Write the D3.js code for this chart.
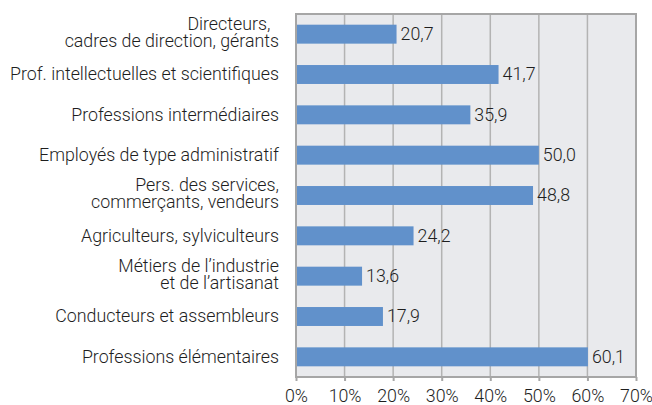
<!DOCTYPE html>
<html><head><meta charset="utf-8">
<script src="https://cdn.jsdelivr.net/npm/d3@7"></script>
<style>body{margin:0;background:#fff}svg{display:block}text{font-family:Roboto,"Noto Sans",sans-serif;font-weight:300;fill:#1e1e1e}</style>
</head><body><svg id="c" width="652" height="405"></svg>
<script>
const categories = [
  ["Directeurs,\u00a0\u00a0", "cadres de direction, gérants"],
  ["Prof. intellectuelles et scientifiques"],
  ["Professions intermédiaires"],
  ["Employés de type administratif"],
  ["Pers. des services,", "commerçants, vendeurs"],
  ["Agriculteurs, sylviculteurs"],
  ["Métiers de l’industrie", "et de l’artisanat"],
  ["Conducteurs et assembleurs"],
  ["Professions élémentaires"]
];
const values = [20.7, 41.7, 35.9, 50.0, 48.8, 24.2, 13.6, 17.9, 60.1];
const ticks = [0, 10, 20, 30, 40, 50, 60, 70];

const FS = 17.8;
const svg = d3.select("#c");
const L = 296, R = 636, T = 14, B = 377;
const x = d3.scaleLinear().domain([0, 70]).range([L, R]);
const y = d3.scaleBand().domain(d3.range(categories.length)).range([T, B]).paddingInner(0.53).paddingOuter(0.265);

svg.append("rect").attr("x", L).attr("y", T).attr("width", R - L).attr("height", B - T).attr("fill", "#e9eaed");
svg.append("g").selectAll("line").data(ticks.slice(1, -1)).join("line")
  .attr("x1", d => x(d)).attr("x2", d => x(d)).attr("y1", T).attr("y2", B)
  .attr("stroke", "#b3b3b3").attr("stroke-width", 1.5);

svg.append("g").selectAll("rect").data(values).join("rect")
  .attr("x", x(0)).attr("y", (d, i) => y(i)).attr("width", d => x(d) - x(0)).attr("height", y.bandwidth())
  .attr("fill", "#6191cb");

const fmt = d => d.toFixed(1).replace(".", ",");
svg.append("g").selectAll("text").data(values).join("text")
  .attr("x", d => x(d) + 4).attr("y", (d, i) => y(i) + y.bandwidth() / 2).attr("dy", "0.33em")
  .attr("font-size", FS).text(fmt);

svg.append("rect").attr("x", L).attr("y", T).attr("width", R - L).attr("height", B - T)
  .attr("fill", "none").attr("stroke", "#a6a6a6").attr("stroke-width", 2);

const xAxis = d3.axisBottom(x).tickValues(ticks).tickSize(4).tickFormat(d => d + "%");
const ga = svg.append("g").attr("transform", `translate(0,${B})`).call(xAxis);
ga.select(".domain").remove();
ga.selectAll(".tick line").attr("stroke", "#a6a6a6").attr("stroke-width", 2);
ga.selectAll(".tick text").attr("font-size", FS).attr("dy", 0).attr("y", 24.5).attr("fill", "#1e1e1e")
  .attr("font-family", "Roboto").attr("font-weight", 300);

const lab = svg.append("g").selectAll("text").data(categories).join("text")
  .attr("text-anchor", "end").attr("font-size", FS)
  .attr("transform", (d, i) => `translate(279,${y(i) + y.bandwidth() / 2})`);
lab.each(function(lines) {
  const t = d3.select(this);
  const n = lines.length;
  lines.forEach((s, k) => {
    t.append("tspan").attr("x", 0).attr("y", (k - (n - 1) / 2) * 17.5 - (n - 1) * 1.5).attr("dy", "0.32em").text(s);
  });
});
</script></body></html>
